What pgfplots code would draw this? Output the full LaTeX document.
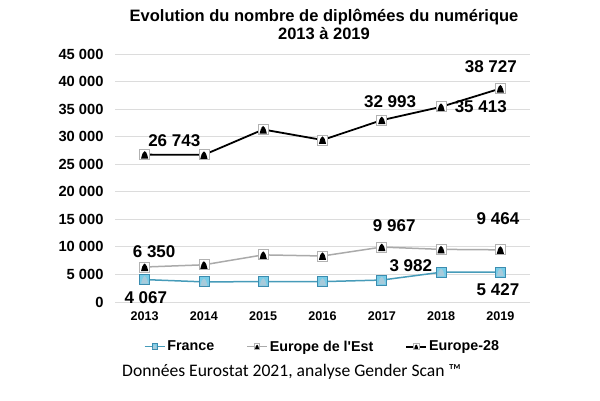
\documentclass[border=0pt]{standalone}
\usepackage{pgfplots}
\pgfplotsset{compat=1.18}
\usepackage{fontspec}
\setmainfont{Liberation Sans}
\newfontfamily\carlito{Carlito}
\definecolor{frline}{RGB}{70,155,185}
\definecolor{frfill}{RGB}{120,205,232}
\definecolor{frdark}{RGB}{60,140,175}
\definecolor{estline}{RGB}{170,170,170}
\definecolor{gridc}{RGB}{220,220,220}

\pgfdeclareplotmark{femgray}{%
  \pgfpathrectangle{\pgfpoint{-5pt}{-5pt}}{\pgfpoint{10pt}{10pt}}%
  \pgfsetfillcolor{white}\pgfsetstrokecolor{gray!60}\pgfsetlinewidth{0.8pt}%
  \pgfusepath{fill,stroke}%
  \pgfpathcircle{\pgfpoint{0pt}{1.6pt}}{1.9pt}%
  \pgfpathmoveto{\pgfpoint{-3.6pt}{-4pt}}%
  \pgfpathlineto{\pgfpoint{3.6pt}{-4pt}}%
  \pgfpathlineto{\pgfpoint{2.2pt}{1pt}}%
  \pgfpathlineto{\pgfpoint{-2.2pt}{1pt}}%
  \pgfpathclose
  \pgfsetfillcolor{black}%
  \pgfusepath{fill}%
}
\pgfdeclareplotmark{femblue}{%
  \pgfpathrectangle{\pgfpoint{-5pt}{-5pt}}{\pgfpoint{10pt}{10pt}}%
  \pgfsetfillcolor{frfill}\pgfsetstrokecolor{frdark}\pgfsetlinewidth{0.8pt}%
  \pgfusepath{fill,stroke}%
  \pgfpathcircle{\pgfpoint{0pt}{1.6pt}}{1.9pt}%
  \pgfpathmoveto{\pgfpoint{-3.6pt}{-4pt}}%
  \pgfpathlineto{\pgfpoint{3.6pt}{-4pt}}%
  \pgfpathlineto{\pgfpoint{2.2pt}{1pt}}%
  \pgfpathlineto{\pgfpoint{-2.2pt}{1pt}}%
  \pgfpathclose
  \pgfsetfillcolor{frdark!45!white}%
  \pgfusepath{fill}%
}

\begin{document}
\begin{tikzpicture}[x=1pt,y=1pt]
\path[use as bounding box] (0,0) rectangle (600,400);
\begin{axis}[
  at={(115pt,98pt)}, anchor=south west,
  scale only axis, width=415pt, height=248pt,
  xmin=2012.5, xmax=2019.5, ymin=0, ymax=45000,
  xtick={2013,2014,2015,2016,2017,2018,2019},
  xticklabels={2013,2014,2015,2016,2017,2018,2019},
  ytick={0,5000,10000,15000,20000,25000,30000,35000,40000,45000},
  axis line style={draw=none}, major tick length=0pt,
  ymajorgrids, grid style={gridc, line width=0.8pt},
  /pgf/number format/assume math mode=true,
  /pgf/number format/1000 sep={\ },
  yticklabel style={font=\bfseries\fontsize{14.7}{16}\selectfont, xshift=-8pt},
  xticklabel style={font=\bfseries\fontsize{12.6}{14}\selectfont, yshift=-6pt},
  scaled y ticks=false,
  clip=false,
  legend style={at={(0.5,-0.18)}, anchor=center, draw=none, fill=none,
    legend columns=3, font=\bfseries\fontsize{14.3}{16}\selectfont,
    /tikz/every even column/.append style={column sep=30pt},
    /tikz/every odd column/.append style={column sep=0pt}},
  legend cell align=left,
  legend image code/.code={\draw[mark repeat=2,mark phase=2,#1] plot coordinates {(0pt,0pt) (10pt,0pt) (20pt,0pt)};},
  every legend image post/.style={mark options={scale=0.55}},
]
\addplot[frline, line width=1.5pt, mark=femblue] coordinates {
 (2013,4067) (2014,3650) (2015,3700) (2016,3700) (2017,3982) (2018,5400) (2019,5427)};
\addlegendentry{France}
\addplot[estline, line width=1.5pt, mark=femgray] coordinates {
 (2013,6350) (2014,6750) (2015,8550) (2016,8350) (2017,9967) (2018,9550) (2019,9464)};
\addlegendentry{Europe de l\textquotesingle Est}
\addplot[black, line width=1.8pt, mark=femgray] coordinates {
 (2013,26743) (2014,26700) (2015,31300) (2016,29400) (2017,32993) (2018,35413) (2019,38727)};
\addlegendentry{Europe-28}

\begin{scope}[every node/.style={font=\bfseries\fontsize{17}{20}\selectfont}]
\node at (axis cs:2013.5,29200) {26 743};
\node at (axis cs:2013.16,9070) {6 350};
\node at (axis cs:2013.02,726) {4 067};
\node at (axis cs:2017.14,36291) {32 993};
\node at (axis cs:2018.67,35384) {35 413};
\node at (axis cs:2018.84,42642) {38 727};
\node at (axis cs:2017.21,13790) {9 967};
\node at (axis cs:2018.96,15061) {9 464};
\node at (axis cs:2017.49,6532) {3 982};
\node at (axis cs:2018.96,2177) {5 427};
\end{scope}
\end{axis}
\node[align=center, font=\bfseries\fontsize{16.5}{18}\selectfont] at (324,376) {Evolution du nombre de diplômées du numérique\\2013 à 2019};
\node[anchor=west, font=\carlito\fontsize{17.6}{20}\selectfont, inner sep=0pt] at (122,28) {Données Eurostat 2021, analyse Gender Scan ™};
\end{tikzpicture}
\end{document}
